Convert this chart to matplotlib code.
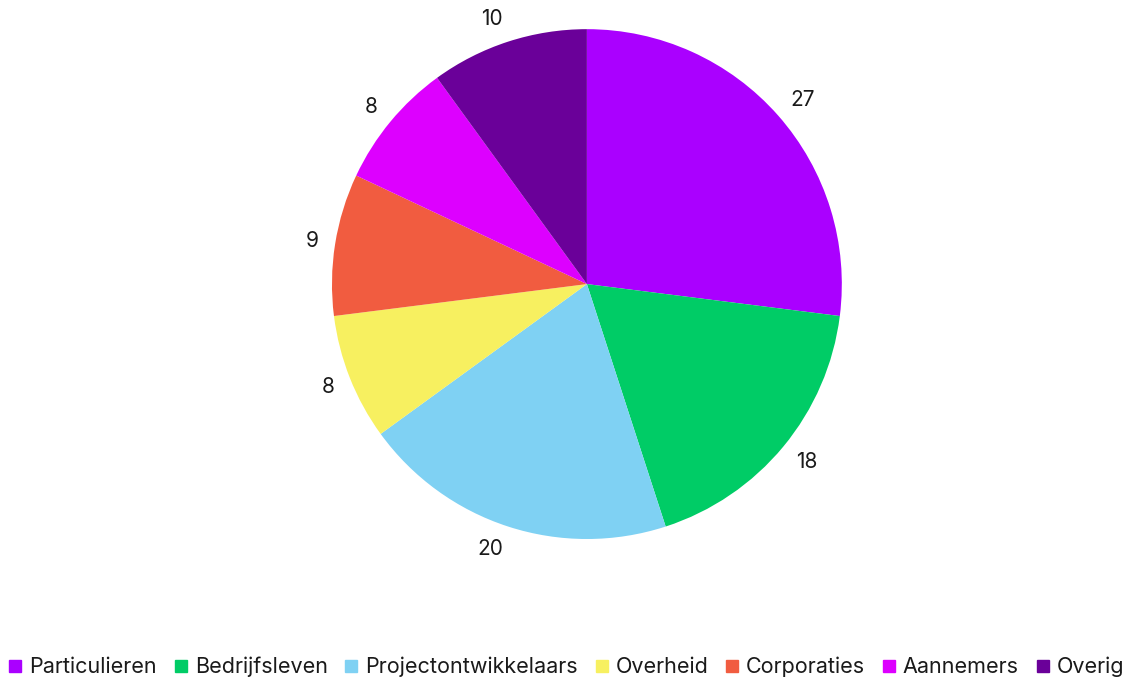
import numpy as np
import matplotlib
matplotlib.use("Agg")
import matplotlib.pyplot as plt
from matplotlib.lines import Line2D

plt.rcParams['font.family'] = ['Inter', 'DejaVu Sans']

categories = ["Particulieren", "Bedrijfsleven", "Projectontwikkelaars", "Overheid",
              "Corporaties", "Aannemers", "Overig"]
values = [27, 18, 20, 8, 9, 8, 10]
colors = ["#AA00FF", "#00CC66", "#7FD1F3", "#F7F060", "#F15C40", "#DD00FF", "#6A0099"]

fig = plt.figure(figsize=(11.33, 6.78), dpi=100)
ax = fig.add_axes([0.293, 0.205, 0.450, 0.752])

wedges, _ = ax.pie(values, colors=colors, startangle=90, counterclock=False,
                   radius=1.0, wedgeprops=dict(linewidth=0))

# value labels just outside each wedge, anchored on the side facing the pie
for w, v in zip(wedges, values):
    ang = np.deg2rad((w.theta1 + w.theta2) / 2)
    c, s = np.cos(ang), np.sin(ang)
    ha = "left" if c > 0.15 else ("right" if c < -0.15 else "center")
    ax.annotate(str(v), xy=(1.065 * c, 1.065 * s), xytext=(0, 5 * s),
                textcoords="offset points", ha=ha, va="center",
                fontsize=15, color="#1a1a1a", annotation_clip=False)

ax.set_xlim(-1, 1)
ax.set_ylim(-1, 1)
ax.set_aspect("equal")
ax.axis("off")

handles = [Line2D([0], [0], marker="s", linestyle="none", markersize=9,
                  markerfacecolor=c, markeredgecolor=c) for c in colors]
fig.legend(handles, categories, loc="center", bbox_to_anchor=(0.5, 0.016),
           ncol=7, frameon=False, fontsize=15.5, handlelength=0.6,
           handletextpad=0.35, columnspacing=0.8, labelcolor="#1a1a1a")

fig.savefig("out.png", dpi=100, facecolor="white")
